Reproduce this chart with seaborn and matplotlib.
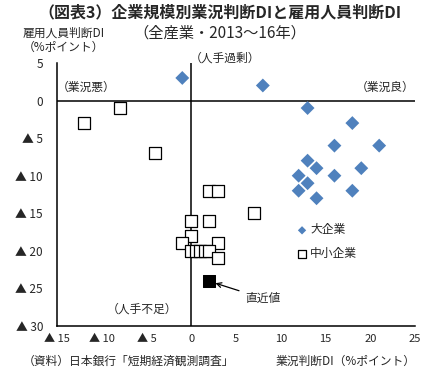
import pandas as pd
import seaborn as sns
import matplotlib.pyplot as plt

# large firms (diamonds): business conditions DI, employment DI
large_x = [-1, 8, 13, 18, 21, 16, 13, 14, 19, 12, 16, 13, 12, 18, 14]
large_y = [3, 2, -1, -3, -6, -6, -8, -9, -9, -10, -10, -11, -12, -12, -13]

# small/medium firms (squares)
small_x = [-8, -12, -4, 2, 3, 7, 0, 2, 0, -1, 3, 0, 0.5, 1, 1.5, 2, 3]
small_y = [-1, -3, -7, -12, -12, -15, -16, -16, -18, -19, -19, -20, -20, -20, -20, -20, -21]

# latest value
latest_x = [2]
latest_y = [-24]

xticks = [-15, -10, -5, 0, 5, 10, 15, 20, 25]
xtick_labels = ['▲ 15', '▲ 10', '▲ 5', '0', '5', '10', '15', '20', '25']
yticks = [5, 0, -5, -10, -15, -20, -25, -30]
ytick_labels = ['5', '0', '▲ 5', '▲ 10', '▲ 15', '▲ 20', '▲ 25', '▲ 30']

sns.set_style('white')
plt.rcParams['font.family'] = ['Noto Sans CJK JP', 'DejaVu Sans']
fs = 8.5

df_large = pd.DataFrame({'x': large_x, 'y': large_y})
df_small = pd.DataFrame({'x': small_x, 'y': small_y})
df_latest = pd.DataFrame({'x': latest_x, 'y': latest_y})

fig = plt.figure(figsize=(4.35, 3.68), dpi=100)
ax = fig.add_axes([0.131, 0.114, 0.823, 0.715])

ax.axhline(0, color='black', lw=1.1, zorder=1)
ax.axvline(0, color='black', lw=1.1, zorder=1)

sns.scatterplot(data=df_large, x='x', y='y', ax=ax, marker='D', s=50,
                color='#4F81BD', edgecolor='none', label='大企業', zorder=3)
sns.scatterplot(data=df_small, x='x', y='y', ax=ax, marker='s', s=80,
                facecolor='white', edgecolor='black', linewidth=0.9,
                label='中小企業', zorder=3)
sns.scatterplot(data=df_latest, x='x', y='y', ax=ax, marker='s', s=85,
                color='black', edgecolor='black', zorder=4, legend=False)

ax.set_xlim(-15, 25)
ax.set_ylim(-30, 5)
ax.set_xticks(xticks)
ax.set_xticklabels(xtick_labels, fontsize=8)
ax.set_yticks(yticks)
ax.set_yticklabels(ytick_labels, fontsize=fs)
ax.tick_params(axis='y', direction='in', length=3, width=0.9, pad=10)
ax.tick_params(axis='x', length=0, pad=6)
ax.set_xlabel('')
ax.set_ylabel('')
for side in ['top', 'right']:
    ax.spines[side].set_visible(False)
for side in ['left', 'bottom']:
    ax.spines[side].set_color('black')
    ax.spines[side].set_linewidth(1.1)

# quadrant notes
ax.text(-15, 1.7, '（業況悪）', fontsize=fs, ha='left', va='center')
ax.text(25, 1.7, '（業況良）', fontsize=fs, ha='right', va='center')
ax.text(-0.2, 5.7, '（人手過剰）', fontsize=fs, ha='left', va='center', clip_on=False)
ax.text(-5.5, -27.8, '（人手不足）', fontsize=fs, ha='center', va='center')

ax.annotate('直近値', xy=(2.7, -24.3), xytext=(6.0, -26.3), fontsize=fs,
            ha='left', va='center',
            arrowprops=dict(arrowstyle='->', color='black', lw=0.9,
                            shrinkA=2, shrinkB=0))

ax.legend(loc='upper left', bbox_to_anchor=(0.668, 0.39), frameon=False,
          fontsize=fs, handlelength=1.0, handletextpad=0.2, labelspacing=0.9,
          borderpad=0, borderaxespad=0, markerscale=0.6)

fig.text(0.506, 0.965, '（図表3）企業規模別業況判断DIと雇用人員判断DI', fontsize=11.5,
         ha='center', va='center', fontweight='bold')
fig.text(0.505, 0.91, '（全産業・2013～16年）', fontsize=11, ha='center', va='center')
fig.text(0.052, 0.91, '雇用人員判断DI', fontsize=fs, ha='left', va='center')
fig.text(0.052, 0.872, '（%ポイント）', fontsize=fs, ha='left', va='center')
fig.text(0.052, 0.0, '（資料）日本銀行「短期経済観測調査」', fontsize=fs,
         ha='left', va='bottom')
fig.text(0.955, 0.0, '業況判断DI（%ポイント）', fontsize=fs, ha='right', va='bottom')

plt.savefig('out.png', dpi=100)
plt.close()
